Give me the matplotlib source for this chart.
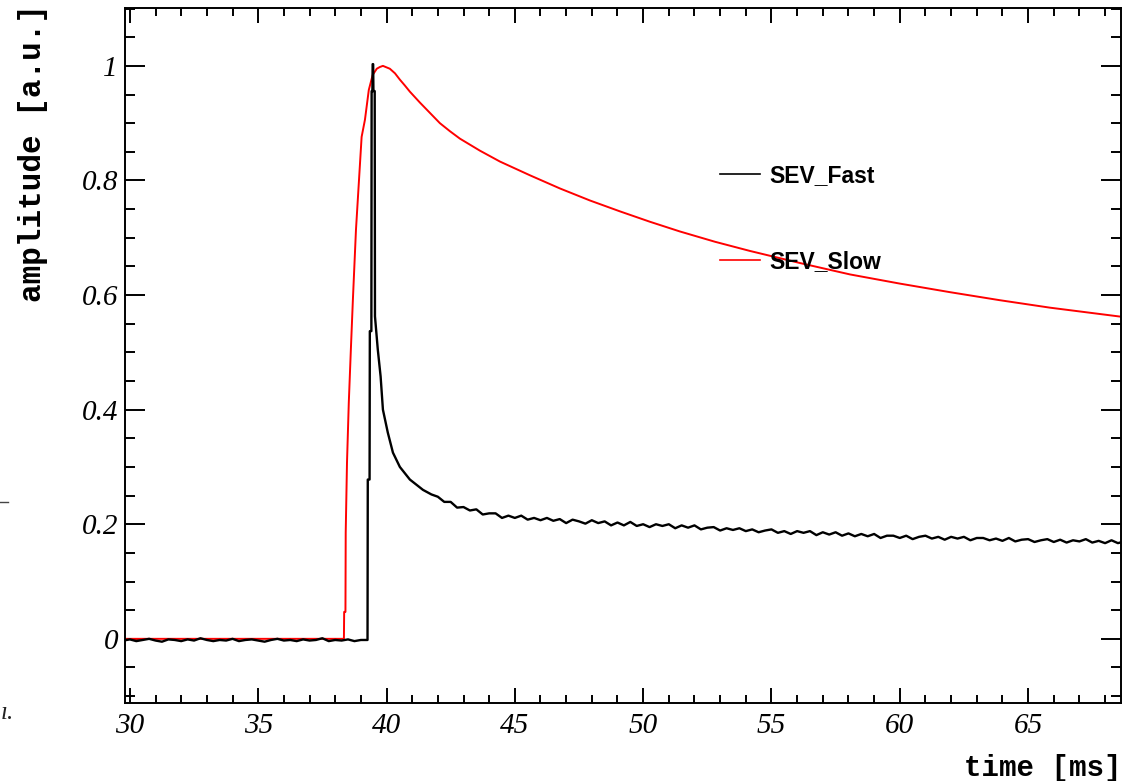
import numpy as np
import matplotlib
matplotlib.use('Agg')
import matplotlib.pyplot as plt
from matplotlib.ticker import MultipleLocator, FuncFormatter
from matplotlib.lines import Line2D

# SEV_Slow (red)
slow_t = [29.81, 38.34, 38.35, 38.40, 38.41, 38.46, 38.53, 38.61, 38.69, 38.81,
          39.03, 39.16, 39.31, 39.46, 39.62, 39.74, 39.86, 40.13, 40.33, 40.52,
          40.71, 40.91, 41.30, 41.69, 42.08, 42.47, 42.86, 43.64, 44.42, 45.59,
          46.76, 47.93, 49.10, 50.26, 51.43, 52.80, 54.16, 56.10, 58.06, 60.00,
          61.96, 63.90, 65.85, 68.66]
slow_v = [0, 0, 0.047, 0.047, 0.185, 0.307, 0.412, 0.504, 0.592, 0.714,
          0.876, 0.906, 0.958, 0.984, 0.995, 0.998, 1.0, 0.995, 0.987, 0.976,
          0.966, 0.955, 0.936, 0.918, 0.900, 0.886, 0.873, 0.852, 0.833, 0.809,
          0.786, 0.765, 0.746, 0.728, 0.711, 0.693, 0.677, 0.656, 0.636, 0.620,
          0.605, 0.591, 0.578, 0.562]

# SEV_Fast (black): baseline every 0.25 ms from 29.75 to 39.0
fast_base = [-0.003, -0.001, -0.004, -0.002, 0.000, -0.003, -0.005, -0.001, -0.002, -0.004,
             -0.001, -0.003, 0.001, -0.002, -0.004, -0.002, -0.003, 0.000, -0.004, -0.002,
             -0.001, -0.003, -0.005, -0.002, 0.000, -0.003, -0.002, -0.004, -0.001, -0.003,
             -0.002, 0.001, -0.004, -0.002, -0.003, -0.001, -0.004, -0.002]
# fast rise / peak / early decay
fast_peak_t = [39.26, 39.27, 39.34, 39.35, 39.41, 39.42, 39.45, 39.46, 39.48, 39.49,
               39.54, 39.55, 39.66, 39.77, 39.86, 40.05, 40.25, 40.52, 40.91, 41.42, 41.75]
fast_peak_v = [-0.002, 0.278, 0.278, 0.537, 0.537, 0.956, 0.956, 1.003, 1.003, 0.956,
               0.956, 0.563, 0.505, 0.458, 0.400, 0.360, 0.325, 0.300, 0.278, 0.260, 0.252]
# tail every 0.25 ms from 42.0 to 68.75
fast_tail = [0.248, 0.239, 0.239, 0.229, 0.230, 0.224, 0.226, 0.217,
             0.219, 0.219, 0.211, 0.215, 0.211, 0.215, 0.208, 0.211,
             0.207, 0.211, 0.206, 0.209, 0.202, 0.208, 0.205, 0.201,
             0.207, 0.202, 0.205, 0.198, 0.203, 0.198, 0.204, 0.197,
             0.200, 0.195, 0.200, 0.197, 0.200, 0.193, 0.198, 0.194,
             0.198, 0.191, 0.194, 0.195, 0.189, 0.193, 0.190, 0.193,
             0.188, 0.191, 0.186, 0.189, 0.191, 0.185, 0.188, 0.183,
             0.188, 0.185, 0.188, 0.181, 0.186, 0.182, 0.186, 0.180,
             0.184, 0.179, 0.183, 0.179, 0.183, 0.176, 0.180, 0.180,
             0.176, 0.180, 0.174, 0.178, 0.180, 0.175, 0.178, 0.173,
             0.178, 0.175, 0.178, 0.172, 0.176, 0.176, 0.172, 0.175,
             0.171, 0.176, 0.170, 0.173, 0.174, 0.169, 0.172, 0.174,
             0.169, 0.173, 0.168, 0.172, 0.170, 0.174, 0.168, 0.171,
             0.167, 0.172, 0.167, 0.170]

fast_t = np.concatenate([np.linspace(29.75, 39.0, len(fast_base)), fast_peak_t,
                         np.linspace(42.0, 68.75, len(fast_tail))])
fast_v = np.concatenate([fast_base, fast_peak_v, fast_tail])

plt.rcParams['font.family'] = 'Liberation Serif'
plt.rcParams['font.style'] = 'italic'

fig = plt.figure(figsize=(11.48, 7.81), dpi=100)
ax = fig.add_axes((125/1148, 1 - 703/781, 996/1148, 695/781))

l_slow, = ax.plot(slow_t, slow_v, color='#ff0000', lw=1.4, zorder=2)
l_fast, = ax.plot(fast_t, fast_v, color='black', lw=1.7, zorder=3)

ax.set_xlim(29.81, 68.62)
ax.set_ylim(-0.112, 1.101)

ax.xaxis.set_major_locator(MultipleLocator(5))
ax.xaxis.set_minor_locator(MultipleLocator(1))
ax.yaxis.set_major_locator(MultipleLocator(0.2))
ax.yaxis.set_minor_locator(MultipleLocator(0.05))
ax.yaxis.set_major_formatter(FuncFormatter(lambda v, p: '%g' % round(v, 2)))

ax.tick_params(which='both', direction='in', top=True, right=True, width=1.4,
               labelsize=21)
ax.tick_params(axis='x', which='major', length=11, pad=7)
ax.tick_params(axis='x', which='minor', length=6)
ax.tick_params(axis='y', which='major', length=14.5, pad=5)
ax.tick_params(axis='y', which='minor', length=7.5)
for s in ax.spines.values():
    s.set_linewidth(1.4)

ax.set_xlabel('time [ms]', loc='right', family='Liberation Mono',
              weight='bold', style='normal', size=21)
ax.set_ylabel('amplitude [a.u.]', loc='top', family='Liberation Mono',
              weight='bold', style='normal', size=22.3)
ax.xaxis.set_label_coords(1.0, -0.073)
ax.yaxis.set_label_coords(-0.077, 1.006)

leg = ax.legend([l_fast, l_slow], ['SEV_Fast', 'SEV_Slow'], frameon=False,
                loc='upper left', bbox_to_anchor=(0.597, 0.776),
                borderpad=0, borderaxespad=0, handlelength=1.75,
                handletextpad=0.4, labelspacing=2.75,
                prop=dict(family='Liberation Sans', weight='bold', style='normal', size=16.5))
for h in leg.get_lines():
    h.set_linewidth(1.2)

# leftover bits at the left edge of the crop
fig.add_artist(Line2D([0, 0.007], [0.357, 0.357], color='#444444', lw=1))
fig.text(0.001, 0.08, 'ı.', fontsize=18, color='#222222')

fig.savefig('out.png', dpi=100)
